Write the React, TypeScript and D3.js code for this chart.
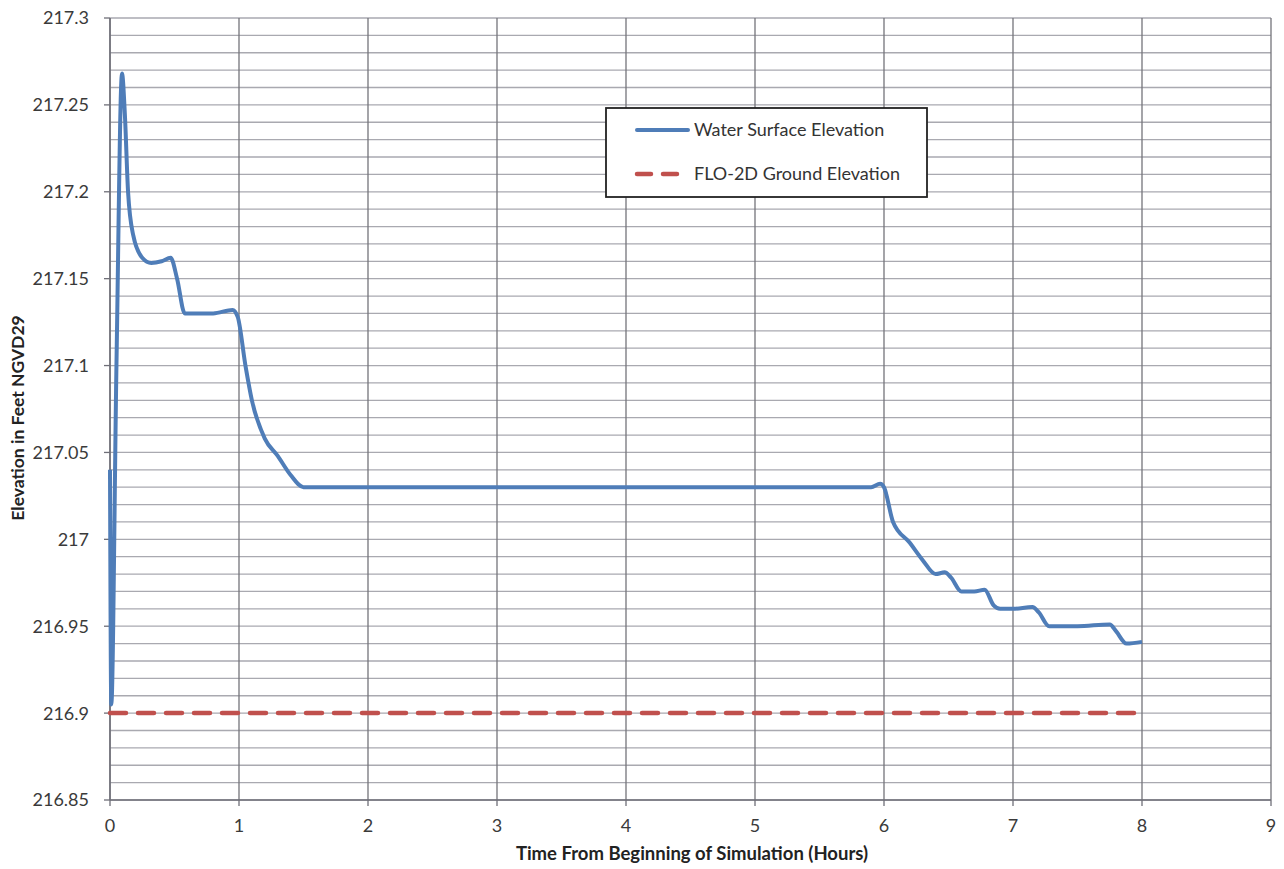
import * as d3 from "d3";

// Water surface elevation (hours, feet NGVD29)
const wseHours = [0, 0.01, 0.05, 0.093, 0.115, 0.14, 0.18, 0.25, 0.32, 0.4, 0.47, 0.52, 0.58, 0.65, 0.8, 0.95, 0.99, 1.05, 1.1, 1.2, 1.3, 1.4, 1.5, 1.6, 3, 5.9, 5.97, 6.0, 6.07, 6.2, 6.3, 6.4, 6.47, 6.52, 6.6, 6.7, 6.78, 6.85, 6.9, 7.0, 7.15, 7.2, 7.28, 7.5, 7.75, 7.8, 7.88, 8.0];
const wseValues = [217.04, 216.905, 217.1, 217.268, 217.245, 217.2, 217.175, 217.162, 217.159, 217.16, 217.162, 217.15, 217.13, 217.13, 217.13, 217.132, 217.128, 217.1, 217.08, 217.058, 217.048, 217.037, 217.03, 217.03, 217.03, 217.03, 217.032, 217.03, 217.01, 216.998, 216.988, 216.98, 216.981, 216.978, 216.97, 216.97, 216.971, 216.962, 216.96, 216.96, 216.961, 216.958, 216.95, 216.95, 216.951, 216.947, 216.94, 216.941];

// FLO-2D ground elevation
const groundHours = [0, 8];
const groundValues = [216.9, 216.9];

const xTicks = [0, 1, 2, 3, 4, 5, 6, 7, 8, 9];
const yTicks = [216.85, 216.9, 216.95, 217, 217.05, 217.1, 217.15, 217.2, 217.25, 217.3];

const legendLabels = ["Water Surface Elevation", "FLO-2D Ground Elevation"];

const W = 1284;
const H = 869;
const left = 110;
const right = 1271;
const top = 18;
const bottom = 800;
const font = "Lato, 'Open Sans', sans-serif";

export default function App() {
  const x = d3.scaleLinear().domain([0, 9]).range([left, right]);
  const y = d3.scaleLinear().domain([216.85, 217.3]).range([bottom, top]);

  const minor = d3.range(0, 46).map((i) => 216.85 + i * 0.01);

  const line = d3
    .line<number>()
    .x((d, i) => x(wseHours[i]))
    .y((d) => y(d))
    .curve(d3.curveMonotoneX);

  const groundLine = d3
    .line<number>()
    .x((d, i) => x(groundHours[i]))
    .y((d) => y(d));

  return (
    <svg width={W} height={H} style={{ position: "absolute", left: 0, top: 0, background: "#fff" }}>
      {/* horizontal minor gridlines */}
      {minor.map((v, i) => (
        <line key={"h" + i} x1={left} x2={right} y1={y(v)} y2={y(v)} stroke="#a9a9b0" strokeWidth={1.3} />
      ))}
      {/* vertical gridlines */}
      {xTicks.map((t) => (
        <line key={"v" + t} x1={x(t)} x2={x(t)} y1={top} y2={bottom} stroke="#74747a" strokeWidth={1.3} />
      ))}
      {/* axes */}
      <line x1={left} x2={left} y1={top} y2={bottom} stroke="#6f6f78" strokeWidth={1.5} />
      <line x1={left} x2={right} y1={bottom} y2={bottom} stroke="#6f6f78" strokeWidth={1.5} />
      {yTicks.map((t) => (
        <line key={"yt" + t} x1={left - 6} x2={left} y1={y(t)} y2={y(t)} stroke="#6f6f78" strokeWidth={1.3} />
      ))}
      {xTicks.map((t) => (
        <line key={"xt" + t} x1={x(t)} x2={x(t)} y1={bottom} y2={bottom + 6} stroke="#6f6f78" strokeWidth={1.3} />
      ))}
      {/* tick labels */}
      {yTicks.map((t) => (
        <text key={"yl" + t} x={left - 21} y={y(t)} dy="0.36em" textAnchor="end" fontFamily={font} fontSize={18} fill="#3a3a3a">
          {d3.format("")(+t.toFixed(2))}
        </text>
      ))}
      {xTicks.map((t) => (
        <text key={"xl" + t} x={x(t)} y={bottom + 32} textAnchor="middle" fontFamily={font} fontSize={18} fill="#3a3a3a">
          {t}
        </text>
      ))}
      {/* axis titles */}
      <text x={692} y={860} textAnchor="middle" fontFamily={font} fontSize={18.5} fontWeight="bold" fill="#222">
        Time From Beginning of Simulation (Hours)
      </text>
      <text
        transform={`translate(24, 418) rotate(-90)`}
        textAnchor="middle"
        fontFamily={font}
        fontSize={17.5}
        fontWeight="bold"
        fill="#222"
      >
        Elevation in Feet NGVD29
      </text>
      {/* series */}
      <path d={groundLine(groundValues) || ""} fill="none" stroke="#c0504d" strokeWidth={4.5} strokeDasharray="16 12" strokeLinecap="round" />
      <path d={line(wseValues) || ""} fill="none" stroke="#4f7db8" strokeWidth={4} strokeLinejoin="round" />
      {/* legend */}
      <rect x={606} y={108} width={321} height={89} fill="#fff" stroke="#222" strokeWidth={1.8} />
      <line x1={637} x2={688} y1={130} y2={130} stroke="#4f7db8" strokeWidth={4} strokeLinecap="round" />
      <text x={694} y={130} dy="0.36em" fontFamily={font} fontSize={18} fill="#333">
        {legendLabels[0]}
      </text>
      <line x1={637} x2={684} y1={174} y2={174} stroke="#c0504d" strokeWidth={4.5} strokeDasharray="14 12" strokeLinecap="round" />
      <text x={694} y={174} dy="0.36em" fontFamily={font} fontSize={18} fill="#333">
        {legendLabels[1]}
      </text>
    </svg>
  );
}
